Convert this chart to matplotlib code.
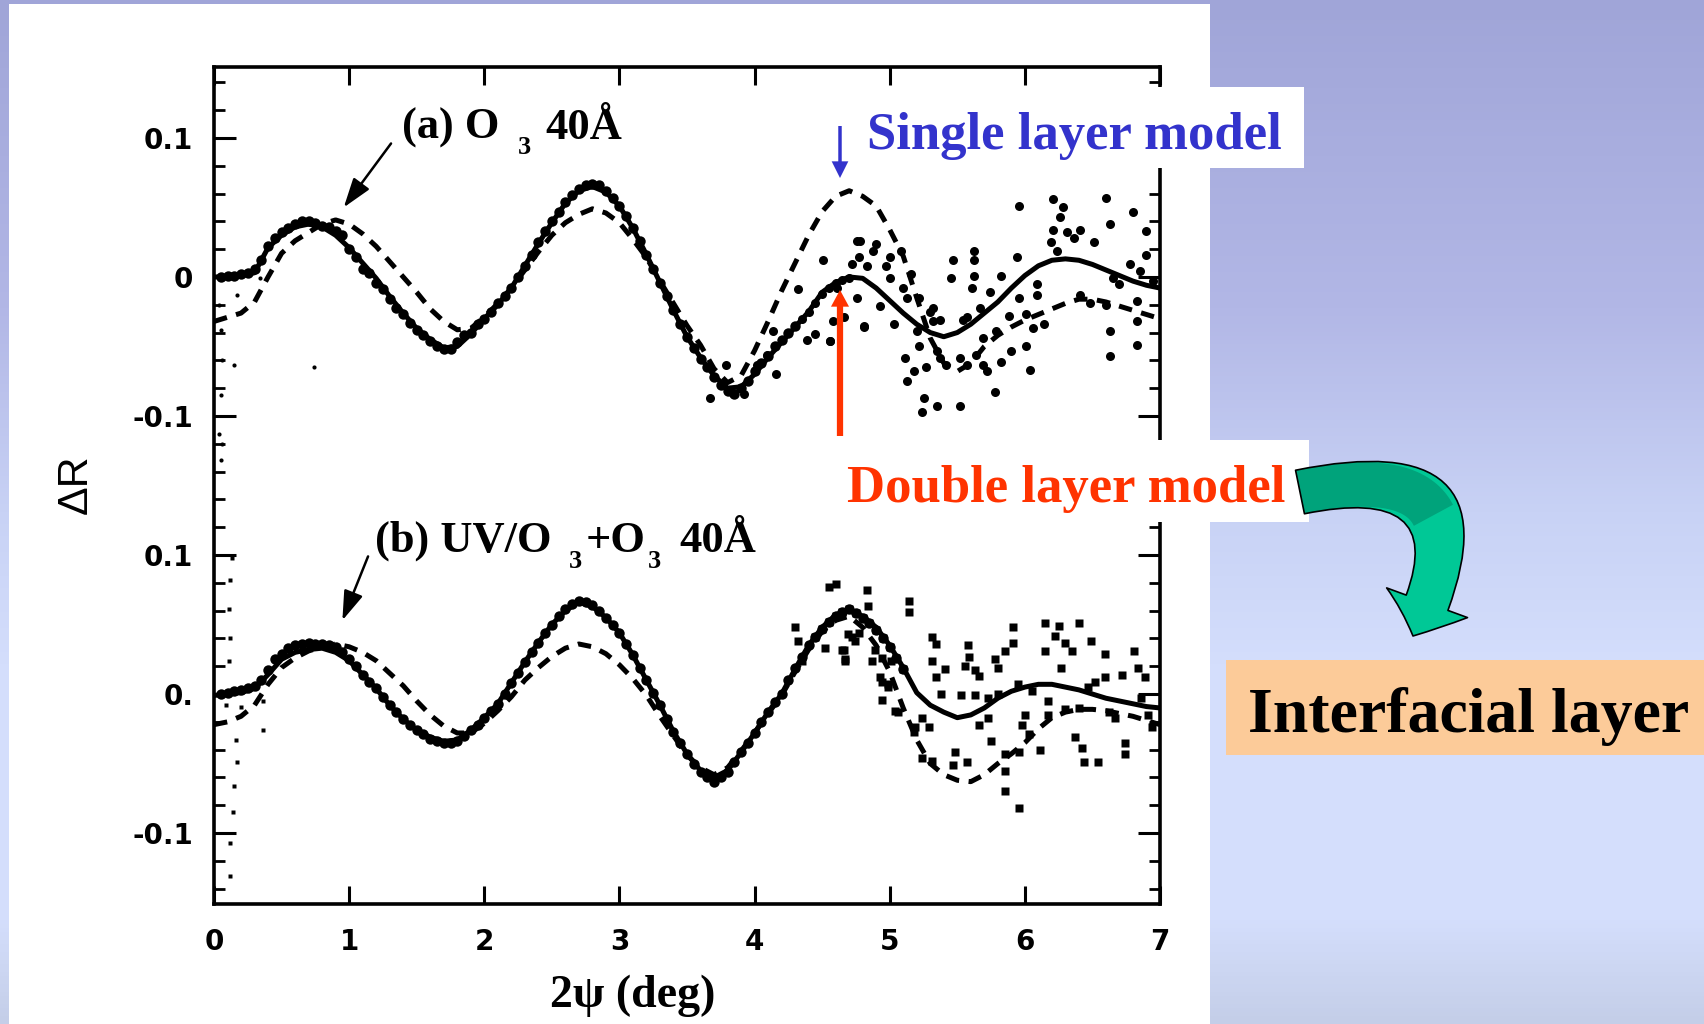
import numpy as np
import matplotlib
matplotlib.use("Agg")
import matplotlib.pyplot as plt
from matplotlib.patches import Rectangle, FancyArrowPatch
from matplotlib.lines import Line2D

# ---------------- data ----------------
OFFSET_B = -0.30  # vertical offset of panel (b)

x_fit = [round(0.1 * i, 1) for i in range(71)]

a_solid = [0.000, 0.000, 0.001, 0.003, 0.021, 0.030, 0.036, 0.038, 0.036, 0.030,
           0.021, 0.010, -0.001, -0.014, -0.026, -0.037, -0.045, -0.051, -0.050, -0.041,
           -0.030, -0.020, -0.008, 0.008, 0.024, 0.039, 0.053, 0.062, 0.065, 0.061,
           0.051, 0.035, 0.016, -0.004, -0.024, -0.043, -0.058, -0.071, -0.080, -0.079,
           -0.070, -0.058, -0.047, -0.036, -0.025, -0.011, -0.004, 0.000, -0.001, -0.008,
           -0.017, -0.026, -0.034, -0.040, -0.043, -0.040, -0.034, -0.026, -0.018, -0.008,
           0.001, 0.008, 0.012, 0.013, 0.012, 0.009, 0.005, 0.001, -0.003, -0.006, -0.008]

a_dashed = [-0.032, -0.029, -0.026, -0.018, 0.000, 0.017, 0.026, 0.032, 0.038, 0.041,
            0.038, 0.031, 0.022, 0.011, 0.000, -0.011, -0.023, -0.032, -0.038, -0.037,
            -0.029, -0.019, -0.008, 0.005, 0.018, 0.030, 0.039, 0.045, 0.049, 0.046,
            0.039, 0.027, 0.014, -0.003, -0.019, -0.035, -0.049, -0.066, -0.076, -0.071,
            -0.053, -0.032, -0.010, 0.010, 0.030, 0.047, 0.058, 0.062, 0.058, 0.051,
            0.034, 0.015, -0.015, -0.044, -0.062, -0.068, -0.062, -0.050, -0.042, -0.036,
            -0.031, -0.027, -0.023, -0.019, -0.016, -0.016, -0.018, -0.021, -0.024, -0.027, -0.030]

b_solid = [-0.001, 0.000, 0.001, 0.004, 0.014, 0.025, 0.030, 0.032, 0.033, 0.030,
           0.024, 0.014, 0.004, -0.008, -0.018, -0.026, -0.031, -0.034, -0.033, -0.026,
           -0.017, -0.007, 0.008, 0.023, 0.037, 0.050, 0.060, 0.066, 0.063, 0.055,
           0.044, 0.028, 0.010, -0.008, -0.027, -0.043, -0.055, -0.060, -0.055, -0.042,
           -0.028, -0.013, 0.000, 0.018, 0.035, 0.048, 0.057, 0.060, 0.056, 0.048,
           0.035, 0.019, 0.001, -0.008, -0.013, -0.017, -0.015, -0.010, -0.003, 0.002,
           0.005, 0.007, 0.007, 0.005, 0.003, 0.000, -0.003, -0.005, -0.007, -0.009, -0.010]

b_dashed = [-0.022, -0.020, -0.016, -0.008, 0.007, 0.019, 0.026, 0.031, 0.034, 0.036,
            0.034, 0.030, 0.024, 0.015, 0.006, -0.005, -0.015, -0.023, -0.028, -0.028,
            -0.021, -0.012, -0.002, 0.010, 0.019, 0.027, 0.033, 0.036, 0.034, 0.029,
            0.021, 0.011, -0.001, -0.016, -0.030, -0.044, -0.053, -0.058, -0.053, -0.041,
            -0.028, -0.014, -0.001, 0.016, 0.032, 0.045, 0.053, 0.056, 0.048, 0.035,
            0.016, -0.010, -0.033, -0.050, -0.058, -0.062, -0.063, -0.058, -0.050, -0.043,
            -0.035, -0.025, -0.017, -0.013, -0.011, -0.011, -0.012, -0.014, -0.016, -0.019, -0.022]

# measured data, dense low-noise part (step 0.05)
a_band_x = [round(0.05 * i, 2) for i in range(1, 87)]
a_band_y = [0.000, 0.001, 0.001, 0.002, 0.003, 0.006, 0.012, 0.022, 0.028, 0.032,
            0.035, 0.038, 0.040, 0.040, 0.039, 0.037, 0.036, 0.033, 0.030, 0.020,
            0.014, 0.006, 0.003, -0.004, -0.009, -0.016, -0.022, -0.027, -0.033, -0.038,
            -0.042, -0.046, -0.050, -0.052, -0.052, -0.047, -0.042, -0.040, -0.034, -0.030,
            -0.025, -0.019, -0.014, -0.008, 0.000, 0.008, 0.016, 0.025, 0.033, 0.040,
            0.047, 0.054, 0.059, 0.063, 0.066, 0.067, 0.066, 0.062, 0.057, 0.051,
            0.044, 0.035, 0.026, 0.016, 0.006, -0.004, -0.014, -0.024, -0.034, -0.043,
            -0.051, -0.059, -0.065, -0.072, -0.078, -0.082, -0.084, -0.080, -0.075, -0.068,
            -0.062, -0.057, -0.050, -0.045, -0.040, -0.035]

b_band_x = [round(0.05 * i, 2) for i in range(1, 103)]
b_band_y = [0.000, 0.001, 0.002, 0.003, 0.004, 0.006, 0.010, 0.017, 0.025, 0.029,
            0.033, 0.035, 0.036, 0.037, 0.036, 0.036, 0.035, 0.034, 0.030, 0.025,
            0.020, 0.014, 0.009, 0.004, -0.002, -0.008, -0.013, -0.018, -0.022, -0.026,
            -0.029, -0.032, -0.034, -0.035, -0.035, -0.034, -0.030, -0.026, -0.022, -0.017,
            -0.012, -0.007, 0.000, 0.008, 0.015, 0.023, 0.030, 0.037, 0.044, 0.050,
            0.056, 0.061, 0.065, 0.067, 0.066, 0.064, 0.060, 0.055, 0.050, 0.044,
            0.036, 0.028, 0.019, 0.010, 0.001, -0.008, -0.018, -0.027, -0.035, -0.043,
            -0.050, -0.056, -0.060, -0.063, -0.060, -0.056, -0.049, -0.042, -0.035, -0.028,
            -0.020, -0.013, -0.006, 0.000, 0.010, 0.019, 0.027, 0.035, 0.041, 0.047,
            0.052, 0.056, 0.059, 0.061, 0.058, 0.055, 0.051, 0.046, 0.040, 0.034,
            0.026, 0.018]

# measured data, scattered part
a_sc_x = [4.35, 4.40, 4.45, 4.50, 4.55, 4.60, 4.65, 4.70, 4.76, 4.51, 4.32, 4.14, 4.16, 4.45,
          4.56, 4.81, 4.39, 3.79, 3.67, 3.92, 4.09, 4.02, 4.78, 4.90, 4.88, 5.00, 5.08, 4.77,
          4.72, 4.83, 4.97, 5.16, 5.00, 5.10, 5.22, 4.61, 4.76, 4.93, 5.32, 5.37, 5.57, 5.62,
          5.62, 5.47, 5.45, 5.62, 5.61, 5.82, 5.94, 5.96, 5.74, 5.96, 6.09, 6.09, 6.21, 6.28,
          6.26, 6.21, 6.31, 6.41, 6.19, 6.24, 6.36, 6.51, 6.60, 6.63, 6.80, 6.78, 6.85, 6.90,
          6.90, 6.95, 6.65, 6.70, 6.41, 6.48, 6.60, 6.83, 6.83, 6.63, 6.83, 6.63, 6.04, 5.78,
          5.52, 5.35, 5.24, 5.25, 5.13, 5.18, 5.27, 5.11, 5.37, 5.42, 5.52, 5.57, 5.64, 5.69,
          5.72, 5.82, 5.90, 6.01, 6.14, 6.06, 6.01, 5.88, 5.79, 5.69, 5.54, 5.67, 5.22, 5.35,
          5.20, 5.03, 5.13, 5.30, 5.32, 4.58, 4.56, 4.66, 4.81]
a_sc_y = [-0.030, -0.025, -0.019, -0.012, -0.008, -0.004, -0.002, -0.001, 0.026, 0.012,
          -0.009, -0.039, -0.070, -0.041, -0.046, -0.036, -0.045, -0.063, -0.087, -0.084,
          -0.056, -0.063, 0.026, 0.024, 0.019, 0.014, 0.019, 0.014, 0.009, 0.008,
          0.008, 0.002, -0.001, -0.008, -0.015, -0.008, -0.015, -0.021, -0.022, -0.031,
          -0.029, 0.019, 0.012, 0.012, -0.001, 0.001, -0.008, 0.001, 0.014, 0.051,
          -0.011, -0.015, -0.005, -0.013, 0.056, 0.050, 0.043, 0.034, 0.032, 0.034,
          0.025, 0.019, 0.028, 0.025, 0.057, 0.038, 0.047, 0.009, 0.004, 0.033,
          0.016, -0.003, -0.001, -0.005, -0.013, -0.019, -0.020, -0.017, -0.032, -0.039,
          -0.049, -0.057, -0.067, -0.083, -0.093, -0.093, -0.097, -0.087, -0.075, -0.068,
          -0.065, -0.058, -0.058, -0.063, -0.058, -0.063, -0.056, -0.063, -0.068, -0.061,
          -0.053, -0.050, -0.034, -0.037, -0.027, -0.028, -0.039, -0.044, -0.031, -0.022,
          -0.050, -0.053, -0.039, -0.034, -0.015, -0.025, -0.032, -0.032, -0.046, -0.029,
          -0.035]

b_sc_x = [4.55, 4.60, 4.83, 4.30, 4.32, 4.52, 4.66, 4.67, 4.69, 4.74, 4.87, 4.94, 4.99, 5.04,
          4.94, 5.19, 5.24, 5.14, 4.35, 4.45, 4.50, 4.55, 4.60, 4.65, 4.70, 4.75, 4.80, 4.85,
          4.90, 4.95, 5.00, 5.05, 5.10, 5.14, 4.84, 4.67, 4.65, 4.72, 4.77, 4.89, 4.94, 4.93,
          4.99, 5.06, 5.01, 5.24, 5.29, 5.18, 5.31, 5.31, 5.34, 5.38, 5.41, 5.34, 5.58, 5.59,
          5.56, 5.63, 5.66, 5.53, 5.63, 5.73, 5.80, 5.66, 5.73, 5.75, 5.91, 5.91, 5.85, 5.78,
          5.80, 6.15, 6.25, 6.40, 6.22, 6.30, 6.35, 6.49, 6.59, 6.52, 6.47, 6.59, 6.72, 6.81,
          6.84, 6.15, 6.27, 5.95, 6.05, 6.17, 6.30, 6.40, 6.17, 6.00, 5.98, 6.03, 6.11, 5.85,
          5.96, 5.85, 5.85, 5.96, 5.48, 5.47, 5.57, 5.31, 6.37, 6.42, 6.44, 6.54, 6.62, 6.67,
          6.74, 6.74, 6.86, 6.91, 6.94, 6.89]
b_sc_y = [0.077, 0.079, 0.075, 0.048, 0.038, 0.033, 0.032, 0.024, 0.043, 0.038, 0.024, 0.009,
          0.005, -0.012, -0.004, -0.024, -0.046, 0.067, 0.024, 0.041, 0.047, 0.052, 0.056, 0.059,
          0.061, 0.058, 0.055, 0.051, 0.046, 0.040, 0.034, 0.026, 0.018, 0.059, 0.063, 0.025,
          0.032, 0.041, 0.044, 0.032, 0.026, 0.012, 0.007, -0.013, 0.024, -0.017, -0.024, -0.027,
          0.041, 0.024, 0.012, 0.000, 0.018, 0.036, 0.035, 0.027, 0.020, 0.017, 0.013, -0.001,
          -0.001, -0.003, 0.000, -0.022, -0.017, -0.034, 0.048, 0.037, 0.031, 0.025, 0.019, 0.051,
          0.049, 0.051, 0.042, 0.037, 0.031, 0.038, 0.029, 0.009, 0.005, 0.012, 0.014, 0.031,
          0.019, 0.031, 0.019, 0.007, 0.002, -0.005, -0.011, -0.010, -0.015, -0.015, -0.022, -0.029,
          -0.040, -0.043, -0.042, -0.055, -0.070, -0.082, -0.042, -0.051, -0.049, -0.048, -0.031,
          -0.039, -0.049, -0.049, -0.013, -0.017, -0.035, -0.043, -0.003, -0.015, -0.024, 0.012]

# tiny marks along the left edge
a_edge_x = [0.04, 0.05, 0.06, 0.05, 0.04, 0.06, 0.05, 0.17, 0.34, 0.15, 0.74]
a_edge_y = [-0.020, -0.038, -0.060, -0.085, -0.113, -0.120, -0.132, -0.013, -0.001, -0.063, -0.065]
b_edge_x = [0.09, 0.20, 0.16, 0.17, 0.15, 0.14, 0.12, 0.12, 0.11, 0.12, 0.11, 0.12, 0.13, 0.36, 0.36]
b_edge_y = [-0.008, -0.009, -0.033, -0.049, -0.066, -0.085, -0.107, -0.131, 0.024, 0.040,
            0.061, 0.082, 0.098, -0.026, -0.005]

x_ticks = [0, 1, 2, 3, 4, 5, 6, 7]
y_tick_vals = [-0.4, -0.3, -0.2, -0.1, 0.0, 0.1]
y_tick_labels = ["-0.1", "0.", "0.1", "-0.1", "0", "0.1"]

# ---------------- figure ----------------
W, H, DPI = 1704, 1024, 100
fig = plt.figure(figsize=(W / DPI, H / DPI), dpi=DPI)


def fx(px):
    return px / W


def fy(py):
    return 1 - py / H


# background gradient
bg = fig.add_axes([0, 0, 1, 1], zorder=-10)
stops_pos = [0.0, 0.3, 0.5, 0.65, 0.9, 1.0]
stops_rgb = [(160, 165, 216), (178, 183, 230), (200, 210, 245), (212, 222, 252),
             (212, 222, 252), (196, 206, 232)]
t = np.linspace(0, 1, 256)
grad = np.stack([np.interp(t, stops_pos, [c[i] for c in stops_rgb]) for i in range(3)], axis=-1) / 255.0
bg.imshow(grad[:, None, :], aspect="auto", extent=[0, 1, 0, 1])
bg.set_xlim(0, 1)
bg.set_ylim(0, 1)
bg.axis("off")

# white slide panel
fig.patches.append(Rectangle((fx(9), 0), fx(1210) - fx(9), fy(4), transform=fig.transFigure,
                             facecolor="white", edgecolor="none", zorder=-5))

# main axes
ax = fig.add_axes([fx(214), fy(904), fx(1160) - fx(214), (904 - 67) / H])
ax.set_facecolor("none")
ax.set_xlim(0, 7)
ax.set_ylim(-0.451, 0.151)

lw_fit = 3.6
dash = (0, (2.7, 1.9))
ax.plot(x_fit, a_solid, color="black", lw=lw_fit, solid_capstyle="round")
ax.plot(x_fit, a_dashed, color="black", lw=lw_fit, ls=dash)
ax.plot(x_fit, [v + OFFSET_B for v in b_solid], color="black", lw=lw_fit, solid_capstyle="round")
ax.plot(x_fit, [v + OFFSET_B for v in b_dashed], color="black", lw=lw_fit, ls=dash)

ax.plot(a_band_x, a_band_y, "o", color="black", ms=7.5, mec="none")
ax.plot(b_band_x, [v + OFFSET_B for v in b_band_y], "o", color="black", ms=7.5, mec="none")
ax.plot(a_sc_x, a_sc_y, "o", color="black", ms=6.5, mec="none")
ax.plot(b_sc_x, [v + OFFSET_B for v in b_sc_y], "s", color="black", ms=5.5, mec="none")
ax.plot(a_edge_x, a_edge_y, "o", color="black", ms=3.0, mec="none")
ax.plot(b_edge_x, [v + OFFSET_B for v in b_edge_y], "s", color="black", ms=2.8, mec="none")

for s in ax.spines.values():
    s.set_linewidth(2.6)

ax.set_xticks(x_ticks)
ax.set_xticklabels([str(v) for v in x_ticks])
ax.set_yticks(y_tick_vals)
ax.set_yticklabels(y_tick_labels)
ax.set_yticks(np.round(np.arange(-0.44, 0.15, 0.02), 2), minor=True)
ax.tick_params(axis="x", which="major", direction="in", length=13, width=2.2, top=True,
               bottom=True, pad=17, labelsize=20)
ax.tick_params(axis="y", which="major", direction="in", length=16, width=2.2, left=True,
               right=True, pad=15, labelsize=20)
ax.tick_params(axis="y", which="minor", direction="in", length=8, width=2.0, left=True,
               right=True)
for lab in ax.get_xticklabels() + ax.get_yticklabels():
    lab.set_fontfamily("DejaVu Sans")
    lab.set_fontweight("bold")

# axis titles
fig.text(fx(633), fy(996), "2ψ (deg)", ha="center", va="center", fontsize=33,
         fontweight="bold", family="Liberation Serif")
fig.text(fx(76), fy(484), "ΔR", ha="center", va="center", rotation=90, fontsize=31,
         family="Liberation Sans")

# panel labels
serif = dict(family="Liberation Serif", fontweight="bold", color="black")
fig.text(fx(402), fy(139), "(a) O", fontsize=32, ha="left", va="baseline", **serif)
fig.text(fx(518), fy(154), "3", fontsize=19, ha="left", va="baseline", **serif)
fig.text(fx(545), fy(139), "40Å", fontsize=32, ha="left", va="baseline", **serif)

fig.text(fx(375), fy(552), "(b) UV/O", fontsize=32, ha="left", va="baseline", **serif)
fig.text(fx(569), fy(568), "3", fontsize=19, ha="left", va="baseline", **serif)
fig.text(fx(586), fy(552), "+O", fontsize=32, ha="left", va="baseline", **serif)
fig.text(fx(648), fy(568), "3", fontsize=19, ha="left", va="baseline", **serif)
fig.text(fx(679), fy(552), "40Å", fontsize=32, ha="left", va="baseline", **serif)

# pointer arrows in the panels
ax.annotate("", xy=(0.96, 0.050), xytext=(1.31, 0.096),
            arrowprops=dict(arrowstyle="-|>,head_length=0.9,head_width=0.3", lw=1.8,
                            color="black", mutation_scale=20, shrinkA=0, shrinkB=0))
ax.annotate("", xy=(0.95, -0.247), xytext=(1.14, -0.201),
            arrowprops=dict(arrowstyle="-|>,head_length=0.9,head_width=0.3", lw=1.8,
                            color="black", mutation_scale=20, shrinkA=0, shrinkB=0))

# model boxes and labels
fig.patches.append(Rectangle((fx(853), fy(168)), (1304 - 853) / W, (168 - 87) / H,
                             transform=fig.transFigure, facecolor="white", edgecolor="none", zorder=5))
fig.patches.append(Rectangle((fx(837), fy(522)), (1309 - 837) / W, (522 - 440) / H,
                             transform=fig.transFigure, facecolor="white", edgecolor="none", zorder=5))
fig.patches.append(Rectangle((fx(1226), fy(755)), (1704 - 1226) / W, (755 - 660) / H,
                             transform=fig.transFigure, facecolor="#FCCB99", edgecolor="none", zorder=5))

fig.text(fx(867), fy(149), "Single layer model", fontsize=38, color="#3333CC", ha="left",
         va="baseline", family="Liberation Serif", fontweight="bold", zorder=6)
fig.text(fx(847), fy(502), "Double layer model", fontsize=38, color="#FF3300", ha="left",
         va="baseline", family="Liberation Serif", fontweight="bold", zorder=6)
fig.text(fx(1248), fy(732), "Interfacial layer", fontsize=46, color="black", ha="left",
         va="baseline", family="Liberation Serif", fontweight="bold", zorder=6)

# blue and red pointers
fig.patches.append(FancyArrowPatch((fx(840), fy(126)), (fx(840), fy(178)), transform=fig.transFigure,
                                   arrowstyle="simple,head_length=12,head_width=12,tail_width=2.5",
                                   mutation_scale=1, shrinkA=0, shrinkB=0, facecolor="#3333CC",
                                   edgecolor="none", zorder=6))
fig.patches.append(FancyArrowPatch((fx(840), fy(436)), (fx(840), fy(290)), transform=fig.transFigure,
                                   arrowstyle="simple,head_length=12,head_width=13,tail_width=4.5",
                                   mutation_scale=1, shrinkA=0, shrinkB=0, facecolor="#FF3300",
                                   edgecolor="none", zorder=6))

# green curved arrow (light body, darker upper face, black outline)
p0 = np.array([1300.0, 492.0])
p2 = np.array([1413.0, 636.0])
green_style = "simple,head_length=26,head_width=62,tail_width=32"
fig.patches.append(FancyArrowPatch((fx(p0[0]), fy(p0[1])), (fx(p2[0]), fy(p2[1])),
                                   transform=fig.transFigure, connectionstyle="arc3,rad=-1.0",
                                   arrowstyle=green_style, mutation_scale=1, shrinkA=0, shrinkB=0,
                                   facecolor="#00C896", edgecolor="none", zorder=6))
# same quadratic curve as arc3 (display coords, y up)
d0 = np.array([p0[0], H - p0[1]])
d2 = np.array([p2[0], H - p2[1]])
mid = (d0 + d2) / 2
dd = d2 - d0
ctrl = np.array([mid[0] - 1.0 * dd[1], mid[1] + 1.0 * dd[0]])
tt = np.linspace(0, 0.55, 40)[:, None]
curve = (1 - tt) ** 2 * d0 + 2 * tt * (1 - tt) * ctrl + tt ** 2 * d2
fig.lines.append(Line2D(curve[:, 0] / W, curve[:, 1] / H, transform=fig.transFigure,
                        color="#00A37B", lw=32, solid_capstyle="butt", zorder=6.5))
fig.patches.append(FancyArrowPatch((fx(p0[0]), fy(p0[1])), (fx(p2[0]), fy(p2[1])),
                                   transform=fig.transFigure, connectionstyle="arc3,rad=-1.0",
                                   arrowstyle=green_style, mutation_scale=1, shrinkA=0, shrinkB=0,
                                   facecolor="none", edgecolor="black", linewidth=1.2, zorder=7))

fig.savefig("out.png", dpi=DPI)
